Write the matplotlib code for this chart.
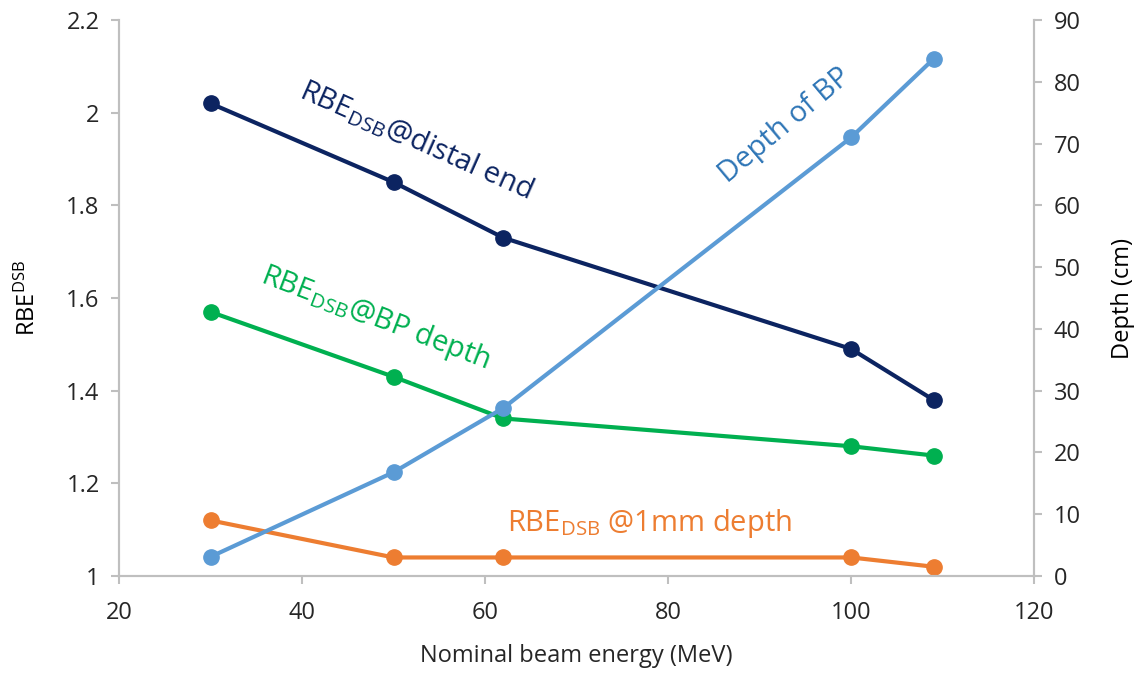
#!/usr/bin/env python3
"""
RBE_DSB and Bragg peak depth versus nominal beam energy.
"""
import matplotlib
matplotlib.use('Agg')
import matplotlib.pyplot as plt

energy = [30, 50, 62, 100, 109]
rbe_distal = [2.02, 1.85, 1.73, 1.49, 1.38]
rbe_bp = [1.57, 1.43, 1.34, 1.28, 1.26]
rbe_1mm = [1.12, 1.04, 1.04, 1.04, 1.02]
depth_bp = [3.1, 16.8, 27.2, 71.0, 83.7]

plt.rcParams['font.family'] = ['Open Sans', 'DejaVu Sans']
plt.rcParams['mathtext.default'] = 'regular'

navy = '#0c2461'
green = '#00b050'
orange = '#ed7d31'
blue = '#5b9bd5'
grey = '#bfbfbf'
txt = '#262626'

fig = plt.figure(figsize=(11.39, 6.79), dpi=100)
ax = fig.add_axes([0.1045, 0.1517, 0.8035, 0.8188])
ax2 = ax.twinx()

ax.plot(energy, rbe_distal, color=navy, lw=3, marker='o', ms=11)
ax.plot(energy, rbe_bp, color=green, lw=3, marker='o', ms=11)
ax.plot(energy, rbe_1mm, color=orange, lw=3, marker='o', ms=11)
ax2.plot(energy, depth_bp, color=blue, lw=3, marker='o', ms=11)

ax.set_xlim(20, 120)
ax.set_ylim(1, 2.2)
ax.set_xticks(range(20, 121, 20))
ax.set_yticks([1, 1.2, 1.4, 1.6, 1.8, 2, 2.2])
ax.set_yticklabels(['1', '1.2', '1.4', '1.6', '1.8', '2', '2.2'])
ax2.set_ylim(0, 90)
ax2.set_yticks(range(0, 91, 10))

for a in (ax, ax2):
    a.spines['top'].set_visible(False)
    for s in ('left', 'right', 'bottom'):
        a.spines[s].set_color(grey)
        a.spines[s].set_linewidth(1.5)
    a.tick_params(colors=grey, labelcolor=txt, labelsize=17, length=6,
                  width=1.5, pad=8)
ax.tick_params(axis='x', pad=12)

ax.set_xlabel('Nominal beam energy (MeV)', fontsize=17, color=txt, labelpad=14)
ax.set_ylabel(r'RBE$^{DSB}$', fontsize=17, color='black', labelpad=18)
ax2.set_ylabel('Depth (cm)', fontsize=17, color='black', labelpad=22)

ax.text(0.325, 0.784, r'RBE$_{DSB}$@distal end', transform=ax.transAxes,
        rotation=-24, fontsize=21, color=navy, ha='center', va='center')
ax.text(0.28, 0.464, r'RBE$_{DSB}$@BP depth', transform=ax.transAxes,
        rotation=-21, fontsize=21, color=green, ha='center', va='center')
ax.text(0.728, 0.81, 'Depth of BP', transform=ax.transAxes,
        rotation=40, fontsize=21, color='#2e75b6', ha='center', va='center')
ax.text(0.58, 0.094, r'RBE$_{DSB}$ @1mm depth', transform=ax.transAxes,
        fontsize=21, color=orange, ha='center', va='center')

fig.savefig('out.png', dpi=100)
